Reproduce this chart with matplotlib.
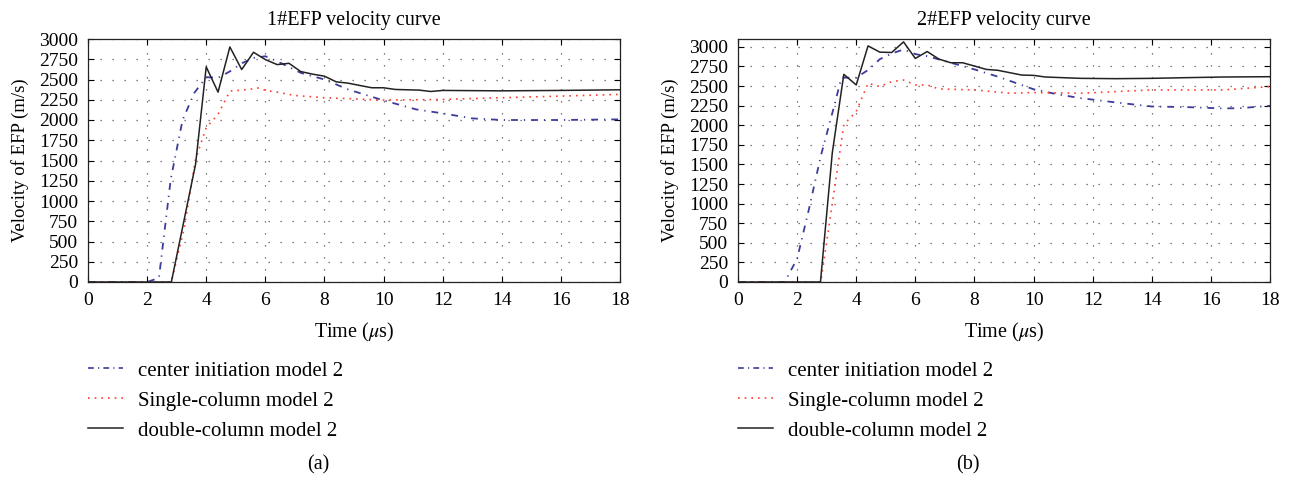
import matplotlib
matplotlib.use("Agg")
import matplotlib.pyplot as plt
from matplotlib.lines import Line2D

plt.rcParams['font.family'] = ['Liberation Serif', 'DejaVu Serif']
plt.rcParams['mathtext.fontset'] = 'stix'

# ---- Data: panel (a) 1#EFP ----
a_center_t = [0, 2.0, 2.4, 2.8, 3.2, 3.6, 4.0, 4.4, 4.8, 5.2, 5.6, 6.0, 6.4, 7.2, 8.0, 8.8, 10.0, 11.1, 12.0, 13.0, 14.0, 15.0, 16.0, 18.0]
a_center_v = [0, 0, 50, 1270, 2000, 2336, 2529, 2520, 2600, 2700, 2766, 2787, 2725, 2582, 2500, 2377, 2242, 2131, 2082, 2020, 2000, 2000, 2000, 2008]

a_single_t = [0, 2.82, 3.25, 3.64, 4.0, 4.4, 4.8, 5.2, 5.6, 5.8, 6.0, 6.4, 7.0, 8.0, 10.0, 12.0, 14.0, 16.0, 18.0]
a_single_v = [0, 0, 656, 1516, 1906, 2070, 2357, 2369, 2385, 2398, 2365, 2344, 2303, 2275, 2246, 2254, 2275, 2295, 2316]

a_double_t = [0, 2.82, 3.64, 4.0, 4.4, 4.8, 5.2, 5.6, 6.0, 6.4, 6.8, 7.2, 7.6, 8.0, 8.4, 8.8, 9.2, 9.6, 10.0, 10.4, 10.8, 11.2, 11.6, 12.0, 14.0, 16.0, 18.0]
a_double_v = [0, 0, 1455, 2656, 2344, 2902, 2623, 2836, 2746, 2684, 2700, 2598, 2566, 2541, 2471, 2455, 2426, 2398, 2398, 2377, 2373, 2369, 2352, 2365, 2360, 2365, 2373]

# ---- Data: panel (b) 2#EFP ----
b_center_t = [0, 1.58, 2.0, 2.4, 2.8, 3.25, 3.5, 4.0, 4.4, 4.8, 5.2, 5.6, 6.0, 6.4, 7.2, 8.0, 8.8, 10.0, 10.8, 11.6, 12.8, 14.0, 15.2, 16.4, 17.0, 18.0]
b_center_v = [0, 0, 296, 929, 1605, 2239, 2607, 2607, 2704, 2843, 2915, 2966, 2907, 2881, 2797, 2712, 2619, 2459, 2395, 2345, 2290, 2239, 2231, 2214, 2218, 2248]

b_single_t = [0, 2.8, 3.13, 3.58, 4.0, 4.4, 4.8, 5.2, 5.6, 6.0, 6.4, 6.8, 8.0, 9.2, 10.0, 11.6, 14.0, 16.4, 18.0]
b_single_v = [0, 0, 845, 2007, 2176, 2535, 2493, 2556, 2577, 2514, 2514, 2463, 2450, 2408, 2417, 2408, 2450, 2450, 2493]

b_double_t = [0, 2.79, 3.19, 3.58, 4.0, 4.4, 4.8, 5.2, 5.6, 6.0, 6.4, 6.8, 7.2, 7.6, 8.0, 8.4, 8.8, 9.2, 9.6, 10.0, 10.4, 11.6, 12.8, 14.0, 15.2, 16.4, 18.0]
b_double_v = [0, 0, 1648, 2649, 2514, 3012, 2932, 2928, 3063, 2852, 2940, 2843, 2797, 2797, 2755, 2712, 2700, 2670, 2640, 2636, 2615, 2598, 2594, 2598, 2607, 2615, 2619]

titles = ["1#EFP velocity curve", "2#EFP velocity curve"]
captions = ["(a)", "(b)"]
labels = ["center initiation model 2", "Single-column model 2", "double-column model 2"]
xticks = list(range(0, 19, 2))
yticks = list(range(0, 3001, 250))

c_blue = "#3c3c9c"
c_red = "#ff4030"
c_black = "#222222"
ls_blue = (0, (3.8, 3.3, 0.7, 3.3))
ls_red = (0, (1, 3.0))

fig = plt.figure(figsize=(12.92, 4.79), dpi=100)
W, H = 1292, 479
panels = [
    (88, (a_center_t, a_center_v), (a_single_t, a_single_v), (a_double_t, a_double_v), 3000, 318),
    (738, (b_center_t, b_center_v), (b_single_t, b_single_v), (b_double_t, b_double_v), 3100, 968),
]
for i, (x0, cen, sng, dbl, ytop, capx) in enumerate(panels):
    ax = fig.add_axes([x0 / W, 1 - 282 / H, 532 / W, (282 - 39) / H])
    ax.plot(cen[0], cen[1], color=c_blue, ls=ls_blue, lw=1.3)
    ax.plot(sng[0], sng[1], color=c_red, ls=ls_red, lw=1.2)
    ax.plot(dbl[0], dbl[1], color=c_black, ls='-', lw=1.1)
    ax.set_xlim(0, 18)
    ax.set_ylim(0, ytop)
    ax.set_xticks(xticks)
    ax.set_yticks(yticks)
    ax.tick_params(direction='in', top=True, right=True, labelsize=14, length=4, width=0.8, pad=7)
    ax.tick_params(axis='x', pad=7)
    ax.grid(True, color='#555555', ls=(0, (1, 8.6)), lw=0.9)
    for s in ax.spines.values():
        s.set_linewidth(0.9)
        s.set_color('#222222')
    ax.set_title(titles[i], fontsize=14.5, pad=10)
    ax.set_xlabel(r"Time ($\mu$s)", fontsize=14.5, labelpad=9)
    ax.set_ylabel("Velocity of EFP (m/s)", fontsize=13.5, labelpad=7)

    handles = [
        Line2D([], [], color=c_blue, ls=(0, (3.5, 2.5, 0.7, 2.5)), lw=1.2),
        Line2D([], [], color=c_red, ls=ls_red, lw=1.2),
        Line2D([], [], color=c_black, ls='-', lw=1.1),
    ]
    fig.legend(handles, labels, loc='upper left', bbox_to_anchor=(x0 / W, 1 - 361 / H),
               frameon=False, fontsize=15, handlelength=1.7, handletextpad=0.7,
               labelspacing=0.5, borderpad=0, borderaxespad=0)
    fig.text(capx / W, 1 - 465 / H, captions[i], ha='center', va='center', fontsize=14.5)

fig.savefig("out.png", dpi=100)
